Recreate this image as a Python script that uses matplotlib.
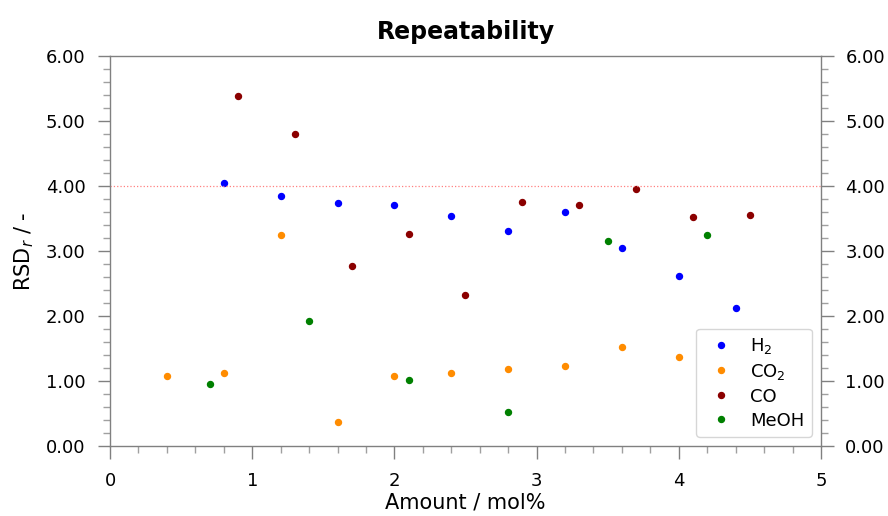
import matplotlib
matplotlib.use("Agg")
import matplotlib.pyplot as plt
from matplotlib.ticker import MultipleLocator, FormatStrFormatter

# Data
h2_x = [0.8, 1.2, 1.6, 2.0, 2.4, 2.8, 3.2, 3.6, 4.0, 4.4]
h2_y = [4.05, 3.84, 3.74, 3.70, 3.54, 3.31, 3.60, 3.05, 2.62, 2.13]

co2_x = [0.4, 0.8, 1.2, 1.6, 2.0, 2.4, 2.8, 3.2, 3.6, 4.0]
co2_y = [1.07, 1.12, 3.24, 0.37, 1.07, 1.13, 1.18, 1.23, 1.53, 1.37]

co_x = [0.9, 1.3, 1.7, 2.1, 2.5, 2.9, 3.3, 3.7, 4.1, 4.5]
co_y = [5.39, 4.80, 2.77, 3.26, 2.33, 3.75, 3.70, 3.96, 3.53, 3.56]

meoh_x = [0.7, 1.4, 2.1, 2.8, 3.5, 4.2]
meoh_y = [0.95, 1.93, 1.02, 0.53, 3.15, 3.24]

limit = 4.0

fig = plt.figure(figsize=(8.88, 5.16), dpi=100)
ax = fig.add_axes([0.1239, 0.1357, 0.8006, 0.7558])

ms = 4.3
ax.plot(h2_x, h2_y, 'o', color='#0000ff', ms=ms, label='H$_2$', lw=0)
ax.plot(co2_x, co2_y, 'o', color='darkorange', ms=ms, label='CO$_2$', lw=0)
ax.plot(co_x, co_y, 'o', color='darkred', ms=ms, label='CO', lw=0)
ax.plot(meoh_x, meoh_y, 'o', color='green', ms=ms, label='MeOH', lw=0)

ax.axhline(limit, color='#ff8080', ls=':', lw=0.9)

ax.set_xlim(0, 5)
ax.set_ylim(0, 6)
ax.xaxis.set_major_locator(MultipleLocator(1))
ax.xaxis.set_minor_locator(MultipleLocator(0.2))
ax.yaxis.set_major_locator(MultipleLocator(1))
ax.yaxis.set_minor_locator(MultipleLocator(0.2))
ax.yaxis.set_major_formatter(FormatStrFormatter('%.2f'))

for sp in ax.spines.values():
    sp.set_color('#808080')
    sp.set_linewidth(1.0)

ax.tick_params(axis='both', which='major', length=9, width=1, color='#808080',
               labelsize=13, labelcolor='black', direction='out')
ax.tick_params(axis='both', which='minor', length=5, width=1, color='#a0a0a0', direction='out')
ax.tick_params(axis='y', which='both', left=True, right=True, labelleft=True, labelright=True)
ax.tick_params(axis='y', which='major', pad=8.5)
ax.tick_params(axis='x', which='both', top=False, bottom=True)
ax.tick_params(axis='x', which='major', pad=9.5)

ax.set_xlabel('Amount / mol%', fontsize=15, labelpad=2)
ax.set_ylabel('RSD$_r$ / -', fontsize=15, labelpad=7)
ax.set_title('Repeatability', fontsize=17, fontweight='bold', pad=12)

ax.legend(loc='lower right', fontsize=13, frameon=True, borderpad=0.4,
          handlelength=1.9, handletextpad=0.7, labelspacing=0.33)

fig.savefig('out.png', dpi=100)
